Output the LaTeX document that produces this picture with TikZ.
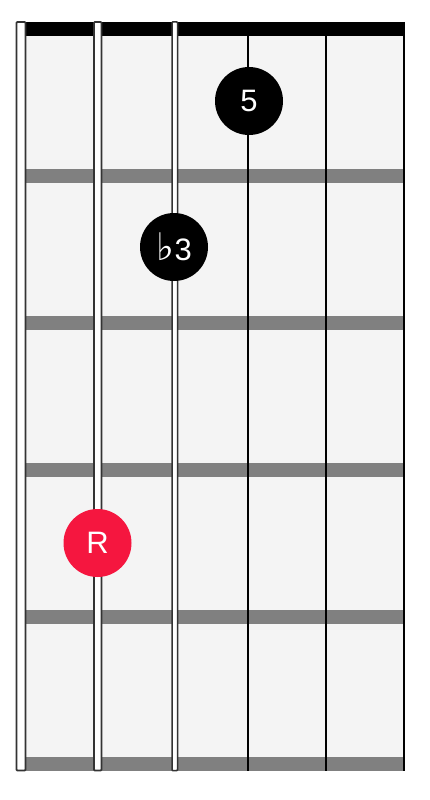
\documentclass[tikz,border=0pt]{standalone}
\usepackage{fontspec}
\setmainfont{Liberation Sans}
\newfontfamily\symfont{DejaVu Sans}
\definecolor{board}{HTML}{F4F4F4}
\definecolor{fretgray}{HTML}{808080}
\definecolor{rootred}{HTML}{F5163F}
\definecolor{edge}{HTML}{333333}
\begin{document}
\begin{tikzpicture}[x=1pt,y=-1pt,
  wound/.style={fill=white,draw=edge,line width=1.8pt,rounded corners=0.8pt},
  plain/.style={draw=black,line width=2pt},
  dotnode/.style={circle,fill=black,text=white,minimum size=68pt,inner sep=0pt,font=\fontsize{31}{31}\selectfont},
  rootnode/.style={dotnode,fill=rootred}]
\useasboundingbox (0,0) rectangle (430,800);
% board
\fill[board] (20,22) rectangle (404,771);
% nut
\fill[black] (20,22) rectangle (404,36);
% frets
\foreach \y in {175.5,322.6,469.8,616.9,764}
  \fill[fretgray] (20,\y-7) rectangle (404,\y+7);
% strings
\draw[wound] (16.5,22) rectangle (25.5,770.5);
\draw[wound] (94,22) rectangle (101.5,770.5);
\draw[wound,line width=1.5pt] (172,22) rectangle (177.5,770.5);
\draw[plain] (248,22) -- (248,770.5);
\draw[plain] (326,22) -- (326,770.5);
\draw[plain] (404,22) -- (404,770.5);
% dots
\node[dotnode] (five) at (249,101) {5};
\node[dotnode] (third) at (174,247) {{\symfont\fontsize{38}{38}\selectfont ♭}\kern0.5pt 3};
\node[rootnode] (root) at (97.5,543) {R};
\end{tikzpicture}
\end{document}
